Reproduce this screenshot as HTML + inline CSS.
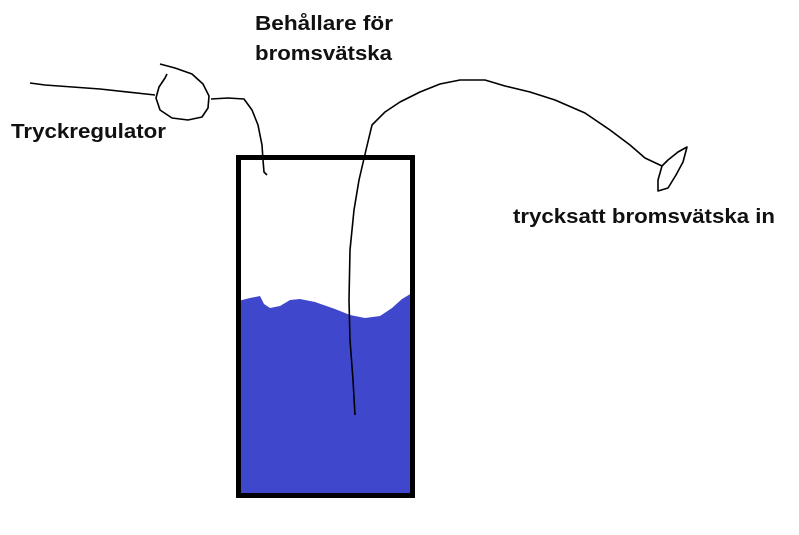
<!DOCTYPE html>
<html><head><meta charset="utf-8"><style>html,body{margin:0;padding:0;background:#fff;}svg{display:block}</style></head>
<body>
<svg width="799" height="535" viewBox="0 0 799 535" xmlns="http://www.w3.org/2000/svg">
<path d="M238,301 L250,298 L260,296 L264,304 L270,308 L280,306 L290,300 L300,299 L315,302 L335,309 L350,315 L365,318 L380,316 L392,308 L402,299 L412,293 L412,496 L238,496 Z" fill="#3f48cc"/>
<rect x="238.5" y="157.5" width="174" height="338" fill="none" stroke="#000" stroke-width="5"/>
<g fill="none" stroke="#000" stroke-width="1.6" stroke-linejoin="round">
<path d="M30,83 L45,85 L100,89 L155,95"/>
<path d="M160,64 L175,68 L192,74 L203,84 L209,96 L208,108 L202,117 L188,120 L172,118 L160,110 L156,98 L159,87 L165,78 L167,74"/>
<path d="M211,99 L228,98 L244,99 L252,110 L258,125 L262,145 L263,160 L264,172 L267,175"/>
<path d="M355,415 L353,380 L350,340 L349,300 L350,250 L354,210 L359,180 L366,150 L372,125 L385,112 L400,102 L420,92 L440,84 L460,80 L485,80 L505,86 L530,92 L555,100 L585,113 L610,130 L630,145 L645,158 L662,166"/>
<path d="M662,166 L658,180 L658,191 L668,188 L676,175 L683,162 L687,147 L678,152 L668,160 Z"/>
</g>
<g font-family="Liberation Sans, sans-serif" font-weight="bold" font-size="20" fill="#111">
<text x="255" y="30" textLength="138" lengthAdjust="spacingAndGlyphs">Behållare för</text>
<text x="255" y="60" textLength="137" lengthAdjust="spacingAndGlyphs">bromsvätska</text>
<text x="11" y="138" textLength="155" lengthAdjust="spacingAndGlyphs">Tryckregulator</text>
<text x="513" y="223" textLength="262" lengthAdjust="spacingAndGlyphs">trycksatt bromsvätska in</text>
</g>
</svg>
</body></html>
